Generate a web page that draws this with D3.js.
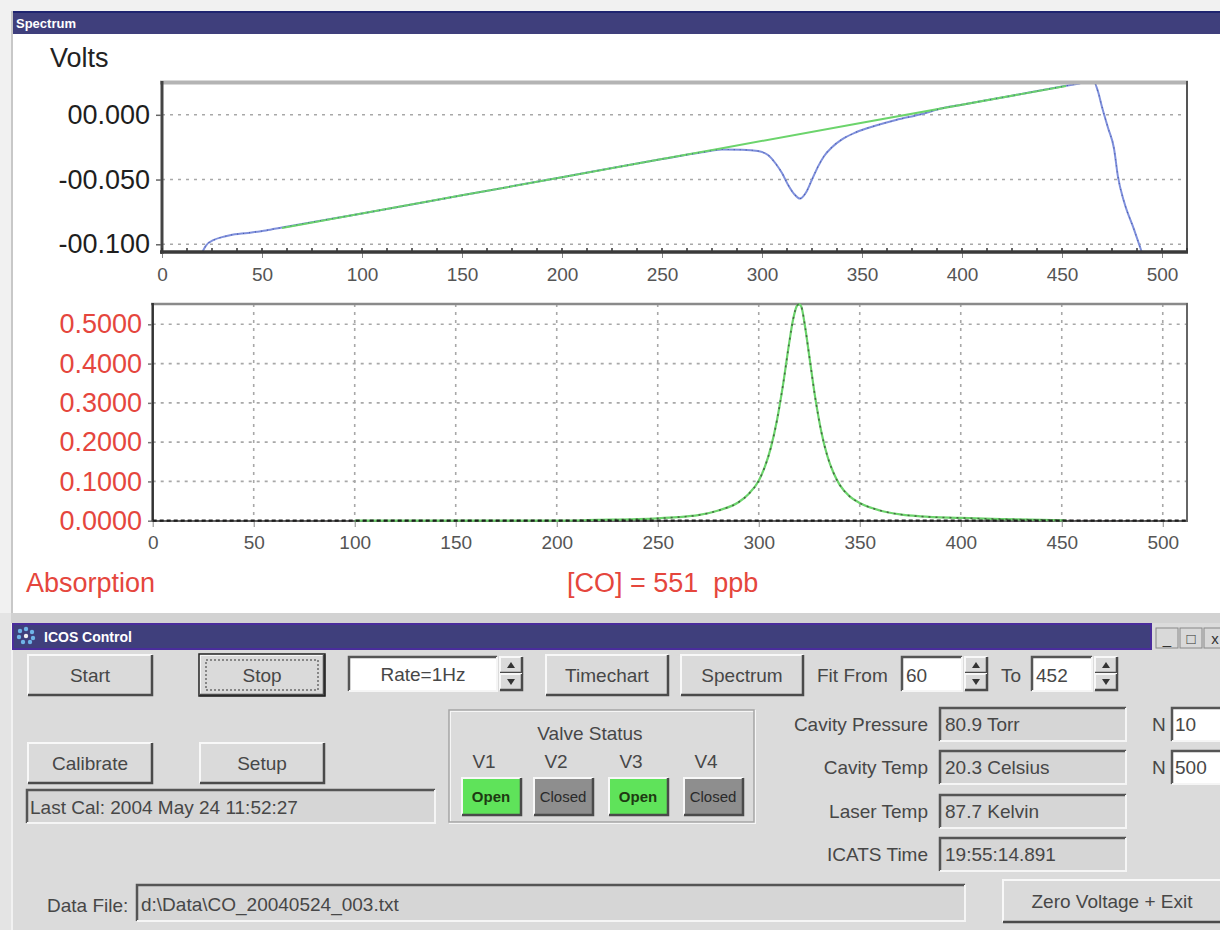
<!DOCTYPE html>
<html>
<head>
<meta charset="utf-8">
<script src="https://cdn.jsdelivr.net/npm/d3@7"></script>
<style>
  html, body { margin: 0; padding: 0; background: #f1f1f1; }
  svg { display: block; font-family: "Liberation Sans", Arial, sans-serif; }
  text { white-space: pre; }
</style>
</head>
<body>
<svg id="app" width="1220" height="930"></svg>
<script>
// ---- Spectrum data ----
const xTicks = [0, 50, 100, 150, 200, 250, 300, 350, 400, 450, 500];
const voltTicks = [0, -0.05, -0.1];
const voltTickLabels = ["00.000", "-00.050", "-00.100"];
const absTicks = [0, 0.1, 0.2, 0.3, 0.4, 0.5];
const absTickLabels = ["0.0000", "0.1000", "0.2000", "0.3000", "0.4000", "0.5000"];

// detector signal (volts) vs. sample index
const signalX = [20, 22, 26, 30, 34, 43, 52, 60, 100, 150, 200, 250, 270, 280, 290, 298, 303, 307, 310, 313, 316, 319, 322, 325, 328, 331, 335, 340, 347, 357, 367, 380, 390, 400, 425, 450, 458, 462, 466, 468, 470, 473, 476, 478, 481, 486, 490];
const signalV = [-0.1065, -0.1010, -0.0966, -0.0945, -0.0930, -0.0912, -0.0893, -0.0870, -0.0762, -0.0622, -0.0482, -0.0342, -0.0290, -0.0268, -0.0270, -0.0280, -0.0310, -0.0380, -0.0450, -0.0540, -0.0610, -0.0647, -0.0600, -0.0500, -0.0400, -0.0320, -0.0250, -0.0190, -0.0135, -0.0083, -0.0040, 0.0006, 0.0050, 0.0078, 0.0148, 0.0218, 0.0240, 0.0252, 0.0252, 0.0180, 0.0060, -0.0100, -0.0260, -0.0480, -0.0670, -0.0885, -0.1065];

// baseline fit over the fit window
const baselineX = [60, 150, 250, 350, 452];
const baselineV = [-0.0874, -0.0622, -0.0342, -0.0062, 0.0223];

// absorption vs. sample index
const absX = [0, 100, 200, 220, 240, 250, 260, 270, 280, 290, 295, 300, 303, 306, 309, 312, 315, 317, 319, 320, 321, 323, 325, 328, 331, 334, 337, 340, 345, 350, 360, 370, 380, 400, 420, 440, 452, 470, 500];
const absV = [0, 0, 0.000, 0.002, 0.004, 0.006, 0.009, 0.014, 0.026, 0.047, 0.068, 0.102, 0.137, 0.186, 0.255, 0.345, 0.450, 0.512, 0.548, 0.551, 0.546, 0.492, 0.420, 0.312, 0.226, 0.164, 0.122, 0.092, 0.062, 0.045, 0.026, 0.016, 0.011, 0.007, 0.004, 0.002, 0.001, 0, 0];
const fitFrom = 60, fitTo = 452;
const concentration = "[CO] = 551  ppb";

// ---- control panel contents ----
const buttons = [
  ["Start", 28, 655, 124, 40], ["Stop", 200, 655, 124, 40],
  ["Timechart", 546, 655, 122, 40], ["Spectrum", 681, 655, 122, 40],
  ["Calibrate", 28, 743, 124, 40], ["Setup", 200, 743, 124, 40],
  ["Zero Voltage + Exit", 1003, 880, 222, 42]
];
const readoutLabels = ["Cavity Pressure", "Cavity Temp", "Laser Temp", "ICATS Time"];
const readoutValues = ["80.9 Torr", "20.3 Celsius", "87.7 Kelvin", "19:55:14.891"];
const valveNames = ["V1", "V2", "V3", "V4"];
const valveStates = ["Open", "Closed", "Open", "Closed"];
const nValues = ["10", "500"];

const svg = d3.select("#app");
const FONT = "'Liberation Sans', Arial, sans-serif";
const RED = "#e5463d";
const UI_TEXT = "#474747";

// ================= Spectrum window =================
svg.append("rect").attr("x", 12).attr("y", 11).attr("width", 1208).attr("height", 602).attr("fill", "#ffffff");
svg.append("rect").attr("x", 11).attr("y", 11).attr("width", 2).attr("height", 602).attr("fill", "#c8c8c8");
svg.append("rect").attr("x", 13).attr("y", 11).attr("width", 1207).attr("height", 23).attr("fill", "#3f3f7c");
svg.append("rect").attr("x", 13).attr("y", 11).attr("width", 1207).attr("height", 2).attr("fill", "#1f2470");
svg.append("text").attr("x", 16).attr("y", 28).attr("fill", "#fff").attr("font-size", 13).attr("font-weight", "bold").text("Spectrum");

// ---- top plot: volts ----
const xTop = d3.scaleLinear().domain([0, 512.5]).range([162, 1187]);
const yTop = d3.scaleLinear().domain([-0.1065, 0.0248]).range([252.7, 82.7]);

svg.append("text").attr("x", 50).attr("y", 67).attr("font-size", 27).attr("fill", "#222").text("Volts");

const gTop = svg.append("g");
gTop.selectAll("line.hg").data(voltTicks).join("line")
  .attr("x1", xTop(0)).attr("x2", xTop(512.5))
  .attr("y1", d => yTop(d)).attr("y2", d => yTop(d))
  .attr("stroke", "#a8a8a8").attr("stroke-width", 1.6).attr("stroke-dasharray", "3,5");

const clipTop = svg.append("clipPath").attr("id", "clipTop");
clipTop.append("rect").attr("x", xTop(0)).attr("y", yTop(0.0248)).attr("width", xTop(512.5) - xTop(0)).attr("height", yTop(-0.1065) - yTop(0.0248));

const lineTop = d3.line().x(d => xTop(d[0])).y(d => yTop(d[1])).curve(d3.curveMonotoneX);
const sig = signalX.map((x, i) => [x, signalV[i]]);
const base = baselineX.map((x, i) => [x, baselineV[i]]);
const plotTop = gTop.append("g").attr("clip-path", "url(#clipTop)");
plotTop.append("path").datum(sig).attr("d", lineTop).attr("fill", "none").attr("stroke", "#7f90dc").attr("stroke-width", 2);
plotTop.append("path").datum(base).attr("d", lineTop).attr("fill", "none").attr("stroke", "#6cd46c").attr("stroke-width", 2);
plotTop.append("path").datum(sig).attr("d", lineTop).attr("fill", "none").attr("stroke", "#2b3a8c").attr("stroke-width", 1.1).attr("stroke-dasharray", "1,5").attr("opacity", 0.65);

// frame
gTop.append("line").attr("x1", 160).attr("x2", 1188).attr("y1", 82.5).attr("y2", 82.5).attr("stroke", "#b4b4b4").attr("stroke-width", 4);
gTop.append("line").attr("x1", 1187).attr("x2", 1187).attr("y1", 81).attr("y2", 253).attr("stroke", "#555").attr("stroke-width", 2);
gTop.append("line").attr("x1", 162).attr("x2", 162).attr("y1", 81).attr("y2", 254).attr("stroke", "#444").attr("stroke-width", 3);

// y axis (ticks on the left)
const yAxisTop = d3.axisLeft(yTop).tickValues(voltTicks).tickSize(5).tickFormat((d, i) => voltTickLabels[i]);
const gyTop = svg.append("g").attr("transform", "translate(161,0)").call(yAxisTop);
gyTop.select(".domain").remove();
gyTop.selectAll(".tick line").attr("stroke", "#666").attr("stroke-width", 1.5);
gyTop.selectAll(".tick text").attr("x", -11).attr("font-family", FONT).attr("font-size", 27).attr("fill", "#1e1e1e");

// x axis with minor ticks
const minorTop = d3.range(0, 513, 12.5);
svg.append("g").selectAll("line").data(minorTop).join("line")
  .attr("x1", d => xTop(d)).attr("x2", d => xTop(d)).attr("y1", 248).attr("y2", 252)
  .attr("stroke", "#333").attr("stroke-width", 1.5);
const xAxisTop = d3.axisBottom(xTop).tickValues(xTicks).tickSize(5).tickFormat(d3.format("d"));
const gxTop = svg.append("g").attr("transform", "translate(0,253)").call(xAxisTop);
gxTop.select(".domain").remove();
gxTop.selectAll(".tick line").attr("stroke", "#888").attr("stroke-width", 1);
gxTop.selectAll(".tick text").attr("y", 15).attr("font-family", FONT).attr("font-size", 19).attr("fill", "#555");
svg.append("line").attr("x1", 160).attr("x2", 1188).attr("y1", 252).attr("y2", 252).attr("stroke", "#3a3a3a").attr("stroke-width", 3.5);

// ---- lower plot: absorption ----
const xLow = d3.scaleLinear().domain([0, 512]).range([152.7, 1187]);
const yLow = d3.scaleLinear().domain([0, 0.5517]).range([520.7, 304]);

const gLow = svg.append("g");
gLow.selectAll("line.vg").data(xTicks.slice(1)).join("line")
  .attr("x1", d => xLow(d)).attr("x2", d => xLow(d)).attr("y1", yLow(0.5517)).attr("y2", yLow(0))
  .attr("stroke", "#a8a8a8").attr("stroke-width", 1.6).attr("stroke-dasharray", "3,5");
gLow.selectAll("line.hg").data(absTicks.slice(1)).join("line")
  .attr("x1", xLow(0)).attr("x2", xLow(512))
  .attr("y1", d => yLow(d)).attr("y2", d => yLow(d))
  .attr("stroke", "#a8a8a8").attr("stroke-width", 1.6).attr("stroke-dasharray", "3,5");

gLow.append("line").attr("x1", 151).attr("x2", 1188).attr("y1", 304).attr("y2", 304).attr("stroke", "#8a8a8a").attr("stroke-width", 2.5);
gLow.append("line").attr("x1", 1187).attr("x2", 1187).attr("y1", 303).attr("y2", 522).attr("stroke", "#666").attr("stroke-width", 2);
gLow.append("line").attr("x1", 152.7).attr("x2", 152.7).attr("y1", 303).attr("y2", 522).attr("stroke", "#333").attr("stroke-width", 2.5);
gLow.append("line").attr("x1", 151).attr("x2", 1188).attr("y1", 521).attr("y2", 521).attr("stroke", "#666").attr("stroke-width", 2);

const lineLow = d3.line().x(d => xLow(d[0])).y(d => yLow(d[1])).curve(d3.curveMonotoneX);
const absData = absX.map((x, i) => [x, absV[i]]);
const absFit = absData.filter(d => d[0] >= fitFrom && d[0] <= fitTo);
gLow.append("path").datum(absFit).attr("d", lineLow).attr("fill", "none").attr("stroke", "#6cd46c").attr("stroke-width", 2.2);
gLow.append("path").datum(absData).attr("d", lineLow).attr("fill", "none").attr("stroke", "#2c2424").attr("stroke-width", 1.6).attr("stroke-dasharray", "2,5").attr("opacity", 0.6);
// baseline trace along zero, drawn heavier like the raw record on the axis
gLow.append("line").attr("x1", xLow(0)).attr("x2", xLow(512)).attr("y1", yLow(0)).attr("y2", yLow(0))
  .attr("stroke", "#1e1e1e").attr("stroke-width", 2.2).attr("stroke-dasharray", "4,3");

const yAxisLow = d3.axisLeft(yLow).tickValues(absTicks).tickSize(4).tickFormat((d, i) => absTickLabels[i]);
const gyLow = svg.append("g").attr("transform", "translate(152,0)").call(yAxisLow);
gyLow.select(".domain").remove();
gyLow.selectAll(".tick line").attr("stroke", "#777").attr("stroke-width", 1.5);
gyLow.selectAll(".tick text").attr("x", -10).attr("font-family", FONT).attr("font-size", 27).attr("fill", RED);

const xAxisLow = d3.axisBottom(xLow).tickValues(xTicks).tickSize(5).tickFormat(d3.format("d"));
const gxLow = svg.append("g").attr("transform", "translate(0,522)").call(xAxisLow);
gxLow.select(".domain").remove();
gxLow.selectAll(".tick line").attr("stroke", "#888").attr("stroke-width", 1);
gxLow.selectAll(".tick text").attr("y", 14).attr("font-family", FONT).attr("font-size", 19).attr("fill", "#555");

svg.append("text").attr("x", 26).attr("y", 592).attr("font-size", 27).attr("fill", RED).text("Absorption");
svg.append("text").attr("x", 567).attr("y", 592).attr("font-size", 27).attr("fill", RED).text(concentration);

// ================= ICOS Control window =================
svg.append("rect").attr("x", 0).attr("y", 613).attr("width", 1220).attr("height", 317).attr("fill", "#e4e4e4");
svg.append("rect").attr("x", 11).attr("y", 613).attr("width", 1209).attr("height", 10).attr("fill", "#d2d2d2");
svg.append("rect").attr("x", 12).attr("y", 623).attr("width", 1208).attr("height", 307).attr("fill", "#dbdbdb");
svg.append("rect").attr("x", 11).attr("y", 623).attr("width", 2).attr("height", 307).attr("fill", "#f2f2f2");
svg.append("rect").attr("x", 13).attr("y", 624).attr("width", 1138).attr("height", 25).attr("fill", "#3f3f7c").attr("stroke", "#4a2c9c").attr("stroke-width", 2);
// title icon
const icon = svg.append("g").attr("transform", "translate(26,636)");
[[-6,-5],[0,-7],[6,-4],[-7,1],[7,2],[-3,6],[4,6],[0,0]].forEach(p => {
  icon.append("circle").attr("cx", p[0]).attr("cy", p[1]).attr("r", 2.2).attr("fill", p[0] === 0 && p[1] === 0 ? "#f0f0f0" : "#6fb4e8");
});
svg.append("text").attr("x", 44).attr("y", 642).attr("fill", "#fff").attr("font-size", 14).attr("font-weight", "bold").text("ICOS Control");

// caption buttons
const capG = svg.append("g");
[["_", 1156], ["□", 1180], ["x", 1204]].forEach(([t, x]) => {
  capG.append("rect").attr("x", x).attr("y", 628).attr("width", 22).attr("height", 20).attr("fill", "#d9d9d9").attr("stroke", "#888").attr("stroke-width", 1);
  capG.append("text").attr("x", x + 11).attr("y", 644).attr("text-anchor", "middle").attr("font-size", 15).attr("fill", "#333").text(t);
});

// helpers for classic 3D controls
function raised(g, x, y, w, h, fill) {
  g.append("rect").attr("x", x).attr("y", y).attr("width", w).attr("height", h).attr("fill", fill || "#dadada");
  g.append("path").attr("d", `M${x},${y + h} V${y} H${x + w}`).attr("fill", "none").attr("stroke", "#f8f8f8").attr("stroke-width", 2);
  g.append("path").attr("d", `M${x},${y + h} H${x + w} V${y}`).attr("fill", "none").attr("stroke", "#4a4a4a").attr("stroke-width", 2.5);
}
function sunken(g, x, y, w, h, fill) {
  g.append("rect").attr("x", x).attr("y", y).attr("width", w).attr("height", h).attr("fill", fill);
  g.append("path").attr("d", `M${x},${y + h} V${y} H${x + w}`).attr("fill", "none").attr("stroke", "#555").attr("stroke-width", 2.5);
  g.append("path").attr("d", `M${x},${y + h} H${x + w} V${y}`).attr("fill", "none").attr("stroke", "#f5f5f5").attr("stroke-width", 2);
}
function label(g, x, y, t, anchor, size, color) {
  g.append("text").attr("x", x).attr("y", y).attr("text-anchor", anchor || "start")
    .attr("font-size", size || 19).attr("fill", color || UI_TEXT).text(t);
}
function spinner(g, x, y) {
  raised(g, x, y, 22, 16);
  raised(g, x, y + 17, 22, 16);
  g.append("path").attr("d", `M${x + 7},${y + 11} L${x + 11},${y + 5} L${x + 15},${y + 11} Z`).attr("fill", "#333");
  g.append("path").attr("d", `M${x + 7},${y + 22} L${x + 11},${y + 28} L${x + 15},${y + 22} Z`).attr("fill", "#333");
}

const panel = svg.append("g");
buttons.forEach(([t, x, y, w, h]) => {
  raised(panel, x, y, w, h);
  label(panel, x + w / 2 - (t === "Zero Voltage + Exit" ? 2 : 0), y + h / 2 + 7, t, "middle");
});
// focused "Stop" button
panel.append("rect").attr("x", 199).attr("y", 654).attr("width", 126).attr("height", 42).attr("fill", "none").attr("stroke", "#222").attr("stroke-width", 1.5);
panel.append("rect").attr("x", 206).attr("y", 660).attr("width", 112).attr("height", 30).attr("fill", "none").attr("stroke", "#333").attr("stroke-width", 1).attr("stroke-dasharray", "2,2");

// rate selector
sunken(panel, 349, 657, 148, 34, "#ffffff");
label(panel, 423, 681, "Rate=1Hz", "middle");
spinner(panel, 500, 657);

// fit window
label(panel, 817, 682, "Fit From");
sunken(panel, 902, 657, 60, 34, "#ffffff");
label(panel, 906, 682, String(fitFrom));
spinner(panel, 965, 657);
label(panel, 1001, 682, "To");
sunken(panel, 1032, 657, 60, 34, "#ffffff");
label(panel, 1036, 682, String(fitTo));
spinner(panel, 1095, 657);

// calibration readout
sunken(panel, 27, 790, 408, 33, "#d6d6d6");
label(panel, 30, 814, "Last Cal: 2004 May 24 11:52:27");

// valve status group
panel.append("rect").attr("x", 450).attr("y", 711).attr("width", 305).attr("height", 112).attr("fill", "none").attr("stroke", "#f6f6f6").attr("stroke-width", 2);
panel.append("rect").attr("x", 449).attr("y", 710).attr("width", 305).attr("height", 112).attr("fill", "none").attr("stroke", "#a5a5a5").attr("stroke-width", 1.5);
label(panel, 590, 740, "Valve Status", "middle");
const valveX = [462, 534, 609, 684];
valveNames.forEach((v, i) => {
  label(panel, valveX[i] + 22, 768, v, "middle");
  const open = valveStates[i] === "Open";
  raised(panel, valveX[i], 778, 59, 37, open ? "#5fe35a" : "#8e8e8e");
  panel.append("text").attr("x", valveX[i] + 29).attr("y", 802).attr("text-anchor", "middle")
    .attr("font-size", 15).attr("font-weight", open ? "bold" : "normal").attr("fill", open ? "#1e3a12" : "#2a2a2a").text(valveStates[i]);
});

// instrument readouts
const rowY = [708, 751, 795, 838];
readoutLabels.forEach((t, i) => {
  label(panel, 928, rowY[i] + 23, t, "end");
  sunken(panel, 940, rowY[i], 186, 33, "#d6d6d6");
  label(panel, 945, rowY[i] + 23, readoutValues[i]);
});
nValues.forEach((t, i) => {
  label(panel, 1152, rowY[i] + 23, "N");
  sunken(panel, 1172, rowY[i], 52, 33, "#ffffff");
  label(panel, 1175, rowY[i] + 23, t);
});

// data file
label(panel, 47, 912, "Data File:");
sunken(panel, 137, 885, 828, 36, "#d6d6d6");
label(panel, 141, 911, "d:\\Data\\CO_20040524_003.txt");
</script>
</body>
</html>
